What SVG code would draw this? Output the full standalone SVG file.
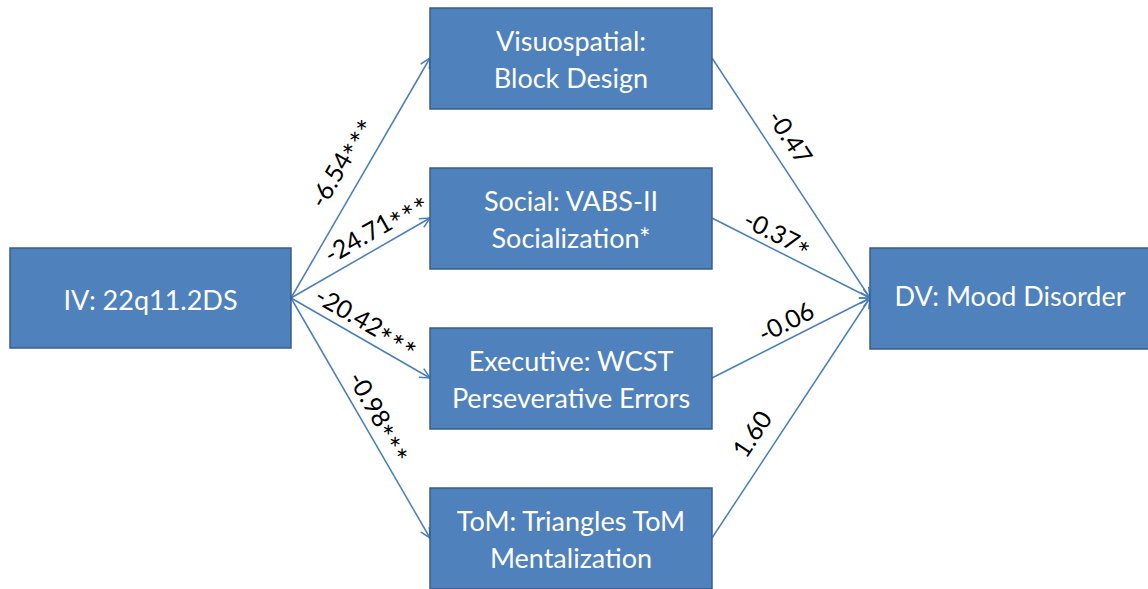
<svg xmlns="http://www.w3.org/2000/svg" width="1148" height="589" viewBox="0 0 1148 589">
  <style>
    .box { fill: #4F81BD; stroke: #385D8A; stroke-width: 1.5; }
    .btxt { fill: #FFFFFF; font-family: Lato, "Open Sans", sans-serif; font-size: 27px; text-anchor: middle; }
    .edge { stroke: #4A7EBB; stroke-width: 1.5; fill: none; marker-end: url(#arr); }
    .lbl { fill: #000000; font-family: Lato, "Open Sans", sans-serif; font-size: 25px; text-anchor: middle; }
    .ast { font-size: 30px; letter-spacing: 1px; }
  </style>
  <defs>
    <marker id="arr" viewBox="0 0 12 12" refX="11" refY="6" markerWidth="12" markerHeight="12" markerUnits="userSpaceOnUse" orient="auto">
      <path d="M1,1 L11,6 L1,11" fill="none" stroke="#4A7EBB" stroke-width="1.5"/>
    </marker>
  </defs>
  <rect width="1148" height="589" fill="#FFFFFF"/>

  <!-- connectors and path coefficients -->
  <g id="connectors">
    <line class="edge" x1="291" y1="298" x2="430" y2="58"/>
    <line class="edge" x1="291" y1="298" x2="430" y2="218"/>
    <line class="edge" x1="291" y1="298" x2="430" y2="378"/>
    <line class="edge" x1="291" y1="298" x2="430" y2="538"/>
    <line class="edge" x1="712" y1="58" x2="870" y2="298"/>
    <line class="edge" x1="712" y1="218" x2="870" y2="298"/>
    <line class="edge" x1="712" y1="378" x2="870" y2="298"/>
    <line class="edge" x1="712" y1="538" x2="870" y2="298"/>
    <text class="lbl" transform="translate(341,162) rotate(-59.9)" dy="9">-6.54<tspan class="ast" dy="8">***</tspan></text>
    <text class="lbl" transform="translate(376,228) rotate(-29.9)" dy="9">-24.71<tspan class="ast" dy="8">***</tspan></text>
    <text class="lbl" transform="translate(367,322) rotate(29.9)" dy="9">-20.42<tspan class="ast" dy="8">***</tspan></text>
    <text class="lbl" transform="translate(380,417) rotate(59.9)" dy="9">-0.98<tspan class="ast" dy="8">***</tspan></text>
    <text class="lbl" transform="translate(790,137) rotate(56.6)" dy="9">-0.47</text>
    <text class="lbl" transform="translate(778,234) rotate(26.9)" dy="9">-0.37<tspan class="ast" dy="8">*</tspan></text>
    <text class="lbl" transform="translate(786,322) rotate(-26.9)" dy="9">-0.06</text>
    <text class="lbl" transform="translate(752,434) rotate(-56.6)" dy="9">1.60</text>
  </g>

  <g id="iv">
    <rect class="box" x="10" y="248" width="281" height="100"/>
    <text class="btxt" x="150.5" y="310">IV: 22q11.2DS</text>
  </g>
  <g id="visuospatial">
    <rect class="box" x="430" y="8" width="282" height="101"/>
    <text class="btxt" x="571" y="51">Visuospatial:</text>
    <text class="btxt" x="571" y="88">Block Design</text>
  </g>
  <g id="social">
    <rect class="box" x="430" y="168" width="282" height="101"/>
    <text class="btxt" x="571" y="211">Social: VABS-II</text>
    <text class="btxt" x="571" y="248">Socialization*</text>
  </g>
  <g id="executive">
    <rect class="box" x="430" y="328" width="282" height="101"/>
    <text class="btxt" x="571" y="371">Executive: WCST</text>
    <text class="btxt" x="571" y="408">Perseverative Errors</text>
  </g>
  <g id="tom">
    <rect class="box" x="430" y="488" width="282" height="101"/>
    <text class="btxt" x="571" y="531">ToM: Triangles ToM</text>
    <text class="btxt" x="571" y="568">Mentalization</text>
  </g>
  <g id="dv">
    <rect class="box" x="870" y="248" width="282" height="101"/>
    <text class="btxt" x="1010" y="306">DV: Mood Disorder</text>
  </g>
</svg>
